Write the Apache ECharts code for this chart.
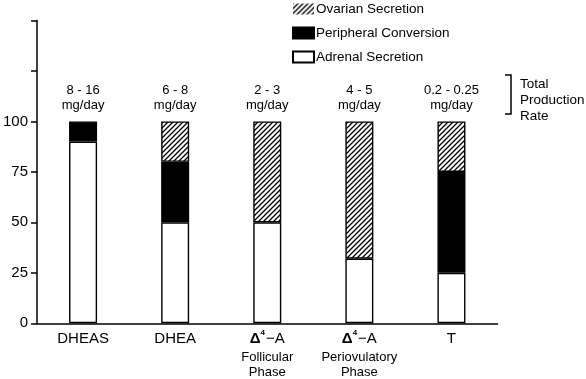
<!DOCTYPE html>
<html>
<head>
<meta charset="utf-8">
<script src="https://cdn.jsdelivr.net/npm/echarts@6/dist/echarts.min.js"></script>
<style>
html,body{margin:0;padding:0;background:#fff;}
#chart{width:586px;height:379px;}
</style>
</head>
<body>
<div id="chart"></div>
<script>
// ---- data ----
var categories = ['DHEAS', 'DHEA', 'A4F', 'A4P', 'T'];
var adrenal = [90, 50, 50, 32, 25];
var peripheral = [10, 30, 0, 0, 50];
var ovarian = [0, 20, 50, 68, 25];
var productionRates = ['8 - 16', '6 - 8', '2 - 3', '4 - 5', '0.2 - 0.25'];
var yTicks = [0, 25, 50, 75, 100];
var seriesNames = ['Ovarian Secretion', 'Peripheral Conversion', 'Adrenal Secretion'];

var totals = categories.map(function (c, i) { return adrenal[i] + peripheral[i] + ovarian[i]; });
function noZero(arr) { return arr.map(function (v) { return v === 0 ? null : v; }); }

// hatch pattern
function makeHatch() {
  var s = 5;
  var c = document.createElement('canvas');
  c.width = s; c.height = s;
  var ctx = c.getContext('2d');
  ctx.fillStyle = '#fff';
  ctx.fillRect(0, 0, s, s);
  ctx.strokeStyle = '#000';
  ctx.lineWidth = 1.3;
  ctx.beginPath();
  ctx.moveTo(0, s); ctx.lineTo(s, 0);
  ctx.moveTo(-1, 1); ctx.lineTo(1, -1);
  ctx.moveTo(s - 1, s + 1); ctx.lineTo(s + 1, s - 1);
  ctx.stroke();
  return c;
}
var hatch = { image: makeHatch(), repeat: 'repeat' };

var FONT = '"Liberation Sans", Arial, sans-serif';
var chart = echarts.init(document.getElementById('chart'), null, { renderer: 'canvas' });

var catLabelMap = {
  'DHEAS': '{big|DHEAS}',
  'DHEA': '{big|DHEA}',
  'A4F': '{d|Δ}{s|4}{big|−A}\n{sm|Follicular}\n{sm|Phase}',
  'A4P': '{d|Δ}{s|4}{big|−A}\n{sm|Periovulatory}\n{sm|Phase}',
  'T': '{big|T}'
};

var barW = 28;
var option = {
  animation: false,
  backgroundColor: '#fff',
  textStyle: { fontFamily: FONT, color: '#000' },
  grid: { left: 37, right: 88.5, top: 20.5, bottom: 55, containLabel: false },
  legend: {
    orient: 'vertical',
    left: 287,
    top: -3,
    icon: 'rect',
    itemWidth: 21,
    itemHeight: 11,
    itemGap: 10,
    selectedMode: false,
    textStyle: { fontFamily: FONT, fontSize: 13.5, color: '#000', lineHeight: 14, padding: [0, 0, 0, -3] },
    data: [
      { name: seriesNames[0], itemStyle: { borderWidth: 0 } },
      { name: seriesNames[1] },
      { name: seriesNames[2] }
    ]
  },
  xAxis: {
    type: 'category',
    data: categories,
    axisLine: { lineStyle: { color: '#000', width: 1.5 } },
    axisTick: { show: false },
    axisLabel: {
      margin: 6,
      interval: 0,
      color: '#000',
      fontFamily: FONT,
      formatter: function (v) { return catLabelMap[v]; },
      rich: {
        big: { fontSize: 15, fontFamily: FONT, color: '#000', lineHeight: 20 },
        d: { fontSize: 15, fontWeight: 'bold', fontFamily: FONT, color: '#000', lineHeight: 20 },
        s: { fontSize: 8, fontWeight: 'bold', fontFamily: FONT, color: '#000', verticalAlign: 'top', padding: [0, 1, 6, 0], lineHeight: 20 },
        sm: { fontSize: 13, fontFamily: FONT, color: '#000', lineHeight: 15.5 }
      }
    }
  },
  yAxis: {
    type: 'value',
    min: 0,
    max: 150,
    interval: 25,
    splitLine: { show: false },
    axisLine: { show: true, lineStyle: { color: '#000', width: 1.5 } },
    axisTick: { show: true, length: 6, lineStyle: { color: '#000', width: 1.5 } },
    axisLabel: {
      margin: 9,
      color: '#000',
      fontFamily: FONT,
      fontSize: 15,
      formatter: function (v) { return yTicks.indexOf(v) >= 0 ? String(v) : ''; }
    }
  },
  series: [
    {
      name: seriesNames[2], type: 'bar', stack: 'a', barWidth: barW, data: noZero(adrenal),
      itemStyle: { color: '#fff', borderColor: '#000', borderWidth: 1.4 }
    },
    {
      name: seriesNames[1], type: 'bar', stack: 'a', barWidth: barW, data: noZero(peripheral),
      itemStyle: { color: '#000', borderColor: '#000', borderWidth: 1.4 }
    },
    {
      name: seriesNames[0], type: 'bar', stack: 'a', barWidth: barW, data: noZero(ovarian),
      itemStyle: { color: hatch, borderColor: '#000', borderWidth: 1.4 }
    },
    {
      name: 'total', type: 'bar', barWidth: barW, barGap: '-100%', data: totals, z: 1,
      itemStyle: { color: 'rgba(0,0,0,0)' },
      silent: true,
      label: {
        show: true, position: 'top', distance: 9, color: '#000', fontFamily: FONT,
        fontSize: 13, lineHeight: 14.5,
        formatter: function (p) { return productionRates[p.dataIndex] + '\nmg/day'; }
      }
    }
  ],
  graphic: [
    {
      type: 'polyline',
      shape: { points: [[505, 75], [511, 75], [511, 114], [505, 114]] },
      style: { stroke: '#000', lineWidth: 1.5, fill: null }
    },
    {
      type: 'text',
      left: 520,
      top: 76,
      style: { text: 'Total\nProduction\nRate', fill: '#000', font: '13.5px ' + FONT, lineHeight: 16 }
    }
  ]
};
chart.setOption(option);
</script>
</body>
</html>
